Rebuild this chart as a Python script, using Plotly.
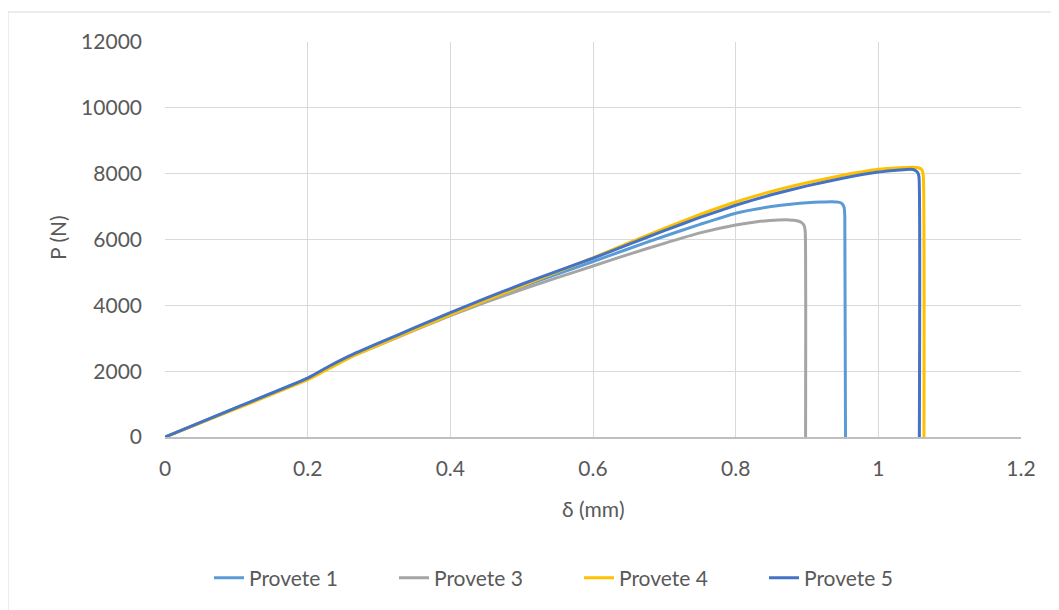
import plotly.graph_objects as go

# Provete 1 (light blue)
x1 = [0, 0.1, 0.2, 0.23, 0.26, 0.3, 0.35, 0.4, 0.45, 0.5, 0.55, 0.6, 0.65, 0.7, 0.75, 0.8, 0.85, 0.88, 0.9, 0.92, 0.935, 0.944, 0.949, 0.952, 0.953, 0.954]
p1 = [0, 890, 1780, 2130, 2460, 2830, 3290, 3750, 4170, 4570, 4950, 5330, 5720, 6100, 6460, 6800, 7000, 7080, 7115, 7140, 7150, 7135, 7090, 6980, 6700, 0]

# Provete 3 (gray)
x3 = [0, 0.1, 0.2, 0.23, 0.26, 0.3, 0.35, 0.4, 0.45, 0.5, 0.55, 0.6, 0.65, 0.7, 0.75, 0.8, 0.83, 0.86, 0.875, 0.886, 0.892, 0.896, 0.8975, 0.898]
p3 = [0, 880, 1760, 2100, 2430, 2790, 3250, 3690, 4100, 4480, 4840, 5195, 5550, 5884, 6200, 6440, 6540, 6590, 6595, 6570, 6520, 6420, 6250, 0]

# Provete 4 (yellow)
x4 = [0, 0.1, 0.2, 0.23, 0.26, 0.3, 0.35, 0.4, 0.45, 0.5, 0.55, 0.6, 0.65, 0.7, 0.75, 0.8, 0.85, 0.9, 0.95, 1.0, 1.03, 1.048, 1.056, 1.061, 1.063, 1.064]
p4 = [0, 860, 1740, 2080, 2420, 2800, 3260, 3720, 4160, 4590, 5020, 5440, 5900, 6340, 6760, 7140, 7460, 7726, 7950, 8131, 8180, 8195, 8180, 8120, 7950, 0]

# Provete 5 (dark blue)
x5 = [0, 0.1, 0.2, 0.23, 0.26, 0.3, 0.35, 0.4, 0.45, 0.5, 0.55, 0.6, 0.65, 0.7, 0.75, 0.8, 0.85, 0.9, 0.95, 1.0, 1.03, 1.045, 1.051, 1.055, 1.057, 1.0575]
p5 = [0, 895, 1790, 2150, 2480, 2860, 3320, 3780, 4220, 4640, 5040, 5430, 5850, 6270, 6670, 7040, 7360, 7630, 7860, 8050, 8115, 8135, 8110, 8040, 7900, 0]

names = ["Provete 1", "Provete 3", "Provete 4", "Provete 5"]
colors = ["#5B9BD5", "#A5A5A5", "#FFC000", "#4472C4"]
xs = [x1, x3, x4, x5]
ps = [p1, p3, p4, p5]

x_ticks = [0, 0.2, 0.4, 0.6, 0.8, 1, 1.2]
x_tick_labels = ["0", "0.2", "0.4", "0.6", "0.8", "1", "1.2"]
y_ticks = [0, 2000, 4000, 6000, 8000, 10000, 12000]
y_tick_labels = ["0", "2000", "4000", "6000", "8000", "10000", "12000"]

FONT = "Lato, 'Open Sans', sans-serif"
TXT = "#595959"
FS = 21

fig = go.Figure()
for x, p, n, c in zip(xs, ps, names, colors):
    fig.add_trace(go.Scatter(x=x, y=p, name=n, mode="lines",
                             line=dict(color=c, width=3, shape="spline", smoothing=0.4)))

# page is offset by the 8px body margin
OFF = 8
W, H = 1059 - OFF, 610 - OFF
L, R, T, B = 165 - OFF, 1021 - OFF, 42 - OFF, 437 - OFF
pw, ph = R - L, B - T

fig.update_layout(
    width=W, height=H,
    margin=dict(l=L, r=W - R, t=T, b=H - B, pad=0),
    paper_bgcolor="white", plot_bgcolor="white",
    font=dict(family=FONT, size=FS, color=TXT),
    showlegend=True,
    legend=dict(orientation="h", x=(209 - OFF - L) / pw, xanchor="left",
                y=(B - (578 - OFF)) / ph, yanchor="middle",
                entrywidth=140, entrywidthmode="pixels",
                font=dict(family=FONT, size=FS, color=TXT),
                bgcolor="rgba(0,0,0,0)", traceorder="normal"),
    xaxis=dict(range=[0, 1.2], tickvals=x_ticks, ticktext=x_tick_labels,
               showgrid=True, gridcolor="#D9D9D9", gridwidth=1,
               zeroline=False, showline=True, linecolor="#BFBFBF", linewidth=1.5,
               ticks="", ticklabelstandoff=12),
    yaxis=dict(range=[0, 12000], tickvals=y_ticks, ticktext=y_tick_labels,
               showgrid=True, gridcolor="#D9D9D9", gridwidth=1,
               zeroline=False, showline=False,
               ticks="", ticklabelstandoff=22),
    annotations=[
        dict(text="δ (mm)", xref="paper", yref="paper",
             x=(593 - OFF - L) / pw, y=(B - (508 - OFF)) / ph,
             xanchor="center", yanchor="middle", showarrow=False,
             font=dict(family=FONT, size=FS, color=TXT)),
        dict(text="P (N)", xref="paper", yref="paper",
             x=(57 - OFF - L) / pw, y=(B - (238 - OFF)) / ph,
             xanchor="center", yanchor="middle", showarrow=False, textangle=-90,
             font=dict(family=FONT, size=FS, color=TXT)),
    ],
    shapes=[dict(type="rect", xref="paper", yref="paper",
                 x0=(8 - OFF - L) / pw, x1=(W + 20 - L) / pw,
                 y0=(B - H - 20) / ph, y1=(B - (12 - OFF)) / ph,
                 line=dict(color="#D9D9D9", width=1), fillcolor="rgba(0,0,0,0)",
                 layer="below")],
)

fig.write_html("out.html")
